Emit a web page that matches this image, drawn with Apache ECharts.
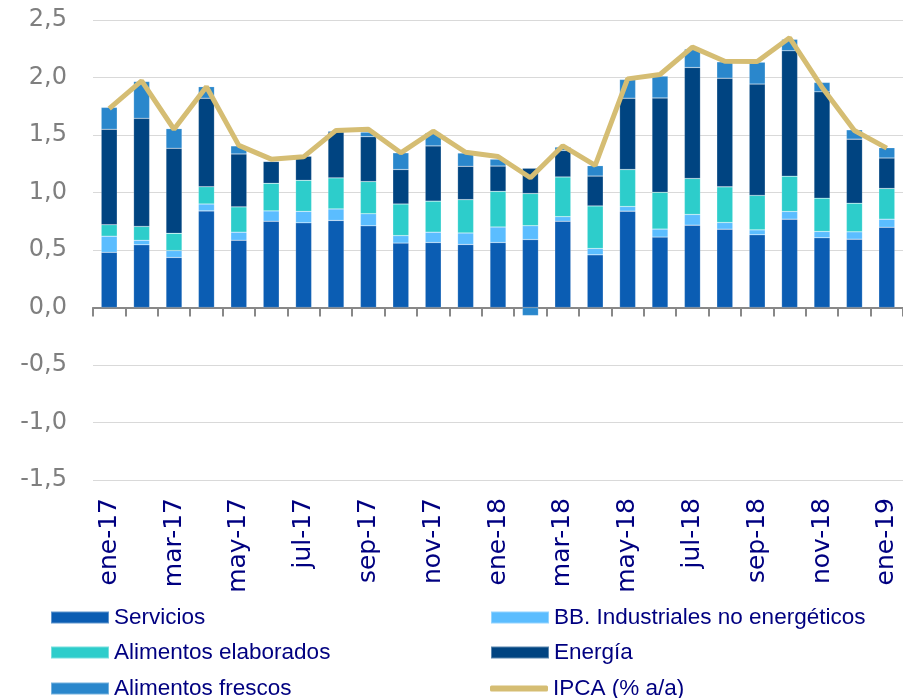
<!DOCTYPE html>
<html>
<head>
<meta charset="utf-8">
<script src="https://cdn.jsdelivr.net/npm/echarts@6/dist/echarts.min.js"></script>
<style>
    html, body { margin: 0; padding: 0; background: #fff; }
    #chart { width: 903px; height: 698px; }
</style>
</head>
<body>
<div id="chart"></div>
<script>
// meses
var months = ["ene-17", "feb-17", "mar-17", "abr-17", "may-17", "jun-17", "jul-17", "ago-17", "sep-17", "oct-17", "nov-17", "dic-17",
    "ene-18", "feb-18", "mar-18", "abr-18", "may-18", "jun-18", "jul-18", "ago-18", "sep-18", "oct-18", "nov-18", "dic-18", "ene-19"];

// contribuciones (pp)
var servicios = [0.48, 0.545, 0.435, 0.84, 0.585, 0.75, 0.736, 0.757, 0.71, 0.56, 0.565, 0.548, 0.565, 0.591, 0.75, 0.458, 0.838, 0.612, 0.716, 0.681, 0.632, 0.768, 0.606, 0.594, 0.698];
var bbIndustriales = [0.14, 0.04, 0.06, 0.06, 0.07, 0.09, 0.10, 0.10, 0.105, 0.065, 0.09, 0.10, 0.135, 0.12, 0.04, 0.055, 0.04, 0.07, 0.093, 0.058, 0.043, 0.067, 0.055, 0.064, 0.07];
var alimElaborados = [0.10, 0.12, 0.15, 0.15, 0.22, 0.24, 0.27, 0.27, 0.28, 0.275, 0.27, 0.29, 0.31, 0.28, 0.345, 0.37, 0.322, 0.32, 0.313, 0.31, 0.30, 0.307, 0.29, 0.249, 0.267];
var energia = [0.83, 0.94, 0.74, 0.77, 0.46, 0.19, 0.21, 0.40, 0.39, 0.30, 0.48, 0.29, 0.22, 0.22, 0.23, 0.26, 0.62, 0.82, 0.965, 0.945, 0.968, 1.09, 0.924, 0.557, 0.265];
var alimFrescos = [0.19, 0.32, 0.17, 0.10, 0.07, 0, 0, 0.01, 0.04, 0.145, 0.115, 0.115, 0.06, -0.07, 0.03, 0.09, 0.163, 0.19, 0.16, 0.142, 0.19, 0.10, 0.082, 0.081, 0.089];
var ipca = [1.73, 1.97, 1.55, 1.92, 1.41, 1.29, 1.31, 1.54, 1.55, 1.345, 1.533, 1.35, 1.313, 1.128, 1.406, 1.235, 1.988, 2.026, 2.264, 2.142, 2.139, 2.345, 1.916, 1.539, 1.386];

var yTicks = { min: -1.5, max: 2.5, step: 0.5 };

var FONT = "Liberation Sans, Arial, sans-serif";
var AXIS_FONT = "DejaVu Sans, Verdana, sans-serif";
var NAVY = "#000080";
var LINE_COLOR = "#D5BD73";

function barSeries(name, data, color) {
    return {
        name: name,
        type: "bar",
        stack: "ipca",
        data: data,
        barWidth: 16,
        itemStyle: { color: color, borderColor: "rgba(255,255,255,0.35)", borderWidth: 0.5 },
        xAxisIndex: 0,
        yAxisIndex: 0
    };
}

// una leyenda por elemento, en dos columnas
function legendItem(name, left, top, lineIcon) {
    return {
        data: [lineIcon ? { name: name, icon: "roundRect", itemStyle: { color: LINE_COLOR } } : { name: name, icon: "rect" }],
        left: left, top: top, padding: 0,
        itemWidth: 58, itemHeight: lineIcon ? 6 : 12,
        textStyle: { color: NAVY, fontSize: 22.5, fontFamily: FONT }
    };
}

var chart = echarts.init(document.getElementById("chart"));

var option = {
    animation: false,
    // grid 0: barras y linea, grid 1: solo etiquetas del eje x abajo
    grid: [
        { left: 93, top: 20, width: 817, height: 460 },
        { left: 93, top: 20, width: 817, height: 460 }
    ],
    legend: [
        legendItem("Servicios", 50, 606),
        legendItem("Alimentos elaborados", 50, 641),
        legendItem("Alimentos frescos", 50, 677),
        legendItem("BB. Industriales no energéticos", 490, 606),
        legendItem("Energía", 490, 641),
        legendItem("IPCA (% a/a)", 490, 677, true)
    ],
    xAxis: [
        {
            type: "category", gridIndex: 0, data: months,
            axisLine: { onZero: true, lineStyle: { color: "#888888", width: 2 } },
            axisTick: { show: true, interval: 0, length: 9, lineStyle: { color: "#888888", width: 2 } },
            axisLabel: { show: false }
        },
        {
            type: "category", gridIndex: 1, data: months, position: "bottom",
            axisLine: { show: false, onZero: false },
            axisTick: { show: false },
            axisLabel: {
                interval: 1, rotate: 90, margin: 18,
                color: NAVY, fontSize: 25, fontFamily: AXIS_FONT
            }
        }
    ],
    yAxis: [
        {
            type: "value", gridIndex: 0,
            min: yTicks.min, max: yTicks.max, interval: yTicks.step,
            axisLine: { show: false }, axisTick: { show: false },
            splitLine: { lineStyle: { color: "#D9D9D9", width: 1 } },
            axisLabel: {
                margin: 26, color: "#7F7F7F", fontSize: 24, fontFamily: AXIS_FONT,
                formatter: function (v) { return v.toFixed(1).replace(".", ","); }
            }
        },
        {
            type: "value", gridIndex: 1, show: false,
            min: yTicks.min, max: yTicks.max, interval: yTicks.step
        }
    ],
    series: [
        barSeries("Servicios", servicios, "#0B5DB3"),
        barSeries("BB. Industriales no energéticos", bbIndustriales, "#5BBDFF"),
        barSeries("Alimentos elaborados", alimElaborados, "#2DCDCB"),
        barSeries("Energía", energia, "#004481"),
        barSeries("Alimentos frescos", alimFrescos, "#2A87CC"),
        {
            name: "IPCA (% a/a)",
            type: "line",
            data: ipca,
            symbol: "none",
            lineStyle: { color: LINE_COLOR, width: 5 },
            itemStyle: { color: LINE_COLOR },
            z: 5,
            xAxisIndex: 0,
            yAxisIndex: 0
        }
    ]
};

chart.setOption(option);
</script>
</body>
</html>
